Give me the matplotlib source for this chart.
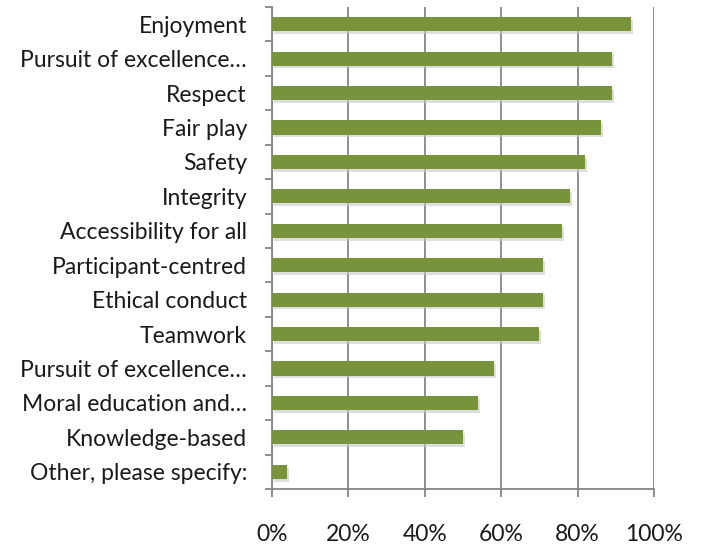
import numpy as np
import matplotlib.pyplot as plt
import matplotlib.patheffects as pe
from matplotlib.ticker import FixedLocator, PercentFormatter

categories = ['Enjoyment', 'Pursuit of excellence…', 'Respect', 'Fair play', 'Safety',
              'Integrity', 'Accessibility for all', 'Participant-centred', 'Ethical conduct',
              'Teamwork', 'Pursuit of excellence…', 'Moral education and…',
              'Knowledge-based', 'Other, please specify:']
values = [94, 89, 89, 86, 82, 78, 76, 71, 71, 70, 58, 54, 50, 4]

plt.rcParams['font.family'] = ['Lato', 'DejaVu Sans']

fig = plt.figure(figsize=(7.03, 5.46), dpi=100)
ax = fig.add_axes([272 / 703, 57 / 546, 382 / 703, 482 / 546])

n = len(categories)
y = np.arange(n)[::-1]
grid_c = '#868686'

bars = ax.barh(y, values, height=0.41, color='#77933C', zorder=3)
for b in bars:
    b.set_path_effects([pe.SimplePatchShadow(offset=(1.5, -2), shadow_rgbFace='#c8c8c8', alpha=0.6), pe.Normal()])

ax.set_xlim(0, 100)
ax.set_ylim(-0.5, n - 0.5)
ax.set_xticks(np.arange(0, 101, 20))
ax.xaxis.set_major_formatter(PercentFormatter(decimals=0))
ax.set_yticks(y)
ax.set_yticklabels(categories)
ax.yaxis.set_minor_locator(FixedLocator(np.arange(-0.5, n, 1)))

ax.grid(axis='x', color=grid_c, linewidth=1.3, zorder=0)
ax.set_axisbelow(True)
for s in ['top', 'right']:
    ax.spines[s].set_visible(False)
for s in ['left', 'bottom']:
    ax.spines[s].set_color(grid_c)
    ax.spines[s].set_linewidth(1.3)

ax.tick_params(axis='y', which='major', length=0, pad=18, labelsize=16.5, labelcolor='#1a1a1a')
ax.tick_params(axis='y', which='minor', length=5, width=1.3, color=grid_c)
ax.tick_params(axis='x', length=6, width=1.3, color=grid_c, pad=19.5, labelsize=16.5, labelcolor='#1a1a1a')

fig.savefig('out.png', dpi=100)
